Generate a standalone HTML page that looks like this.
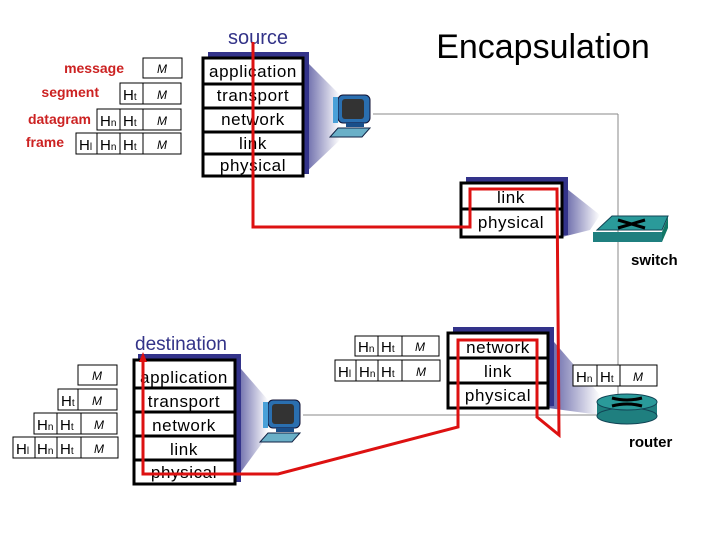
<!DOCTYPE html>
<html><head><meta charset="utf-8"><style>
html,body{margin:0;padding:0;background:#fff;}
svg{display:block;}
text{font-family:"Liberation Sans",sans-serif;}
.lay{font-size:17px;fill:#000;text-anchor:middle;letter-spacing:0.6px;}
.lbl{font-size:14px;font-weight:bold;fill:#cc2222;text-anchor:end;}
.h{font-size:15px;fill:#000;}
.m{font-size:12px;fill:#000;text-anchor:middle;font-style:italic;}
.dev{font-size:15px;font-weight:bold;fill:#000;}
</style></head><body>
<svg width="720" height="540" viewBox="0 0 720 540" xmlns="http://www.w3.org/2000/svg">
<defs>
<linearGradient id="g" x1="0" x2="1" y1="0" y2="0">
<stop offset="0" stop-color="#33338a"/><stop offset="1" stop-color="#33338a" stop-opacity="0"/>
</linearGradient>
<g id="pc">
<rect x="8" y="0" width="32" height="28" rx="5" fill="#2a6fb0" stroke="#113" stroke-width="1"/>
<rect x="12" y="4" width="22" height="20" rx="3" fill="#333"/>
<rect x="3" y="2" width="5" height="26" fill="#4aa0d8"/>
<rect x="16" y="28" width="18" height="4" fill="#1a4f8a"/>
<polygon points="0,42 32,42 40,33 8,33" fill="#6ab0c8" stroke="#124" stroke-width="1"/>
</g>
</defs>

<line x1="373" y1="114" x2="618" y2="114" stroke="#888" stroke-width="1"/>
<line x1="618" y1="114" x2="618" y2="420" stroke="#888" stroke-width="1"/>
<line x1="303" y1="415" x2="600" y2="415" stroke="#888" stroke-width="1"/>

<polygon points="303,58 340,95 340,140 303,175" fill="url(#g)" opacity="0.8"/>
<rect x="303" y="56" width="6" height="118" fill="#33338a"/>
<rect x="208" y="52" width="101" height="6" fill="#33338a"/>
<polygon points="562,185 600,215 590,230 562,237" fill="url(#g)" opacity="0.8"/>
<rect x="562" y="179" width="6" height="56" fill="#33338a"/>
<rect x="466" y="177" width="102" height="6" fill="#33338a"/>
<polygon points="548,335 600,395 600,415 548,408" fill="url(#g)" opacity="0.8"/>
<rect x="548" y="329" width="6" height="77" fill="#33338a"/>
<rect x="453" y="327" width="101" height="6" fill="#33338a"/>
<polygon points="235,362 268,400 268,435 235,480" fill="url(#g)" opacity="0.8"/>
<rect x="235" y="356" width="6" height="126" fill="#33338a"/>
<rect x="138" y="354" width="103" height="6" fill="#33338a"/>

<g stroke="#000" stroke-width="3" fill="#fff">
<rect x="203" y="58" width="100" height="118"/>
<line x1="203" y1="84" x2="303" y2="84"/><line x1="203" y1="108" x2="303" y2="108"/>
<line x1="203" y1="132" x2="303" y2="132"/><line x1="203" y1="154" x2="303" y2="154"/>
</g>
<text class="lay" x="253" y="77">application</text>
<text class="lay" x="253" y="101">transport</text>
<text class="lay" x="253" y="125">network</text>
<text class="lay" x="253" y="149">link</text>
<text class="lay" x="253" y="171">physical</text>

<g stroke="#000" stroke-width="3" fill="#fff">
<rect x="461" y="183" width="101" height="54"/>
<line x1="461" y1="209" x2="562" y2="209"/>
</g>
<text class="lay" x="511" y="203">link</text>
<text class="lay" x="511" y="228">physical</text>

<g stroke="#000" stroke-width="3" fill="#fff">
<rect x="448" y="333" width="100" height="75"/>
<line x1="448" y1="358" x2="548" y2="358"/><line x1="448" y1="383" x2="548" y2="383"/>
</g>
<text class="lay" x="498" y="353">network</text>
<text class="lay" x="498" y="377">link</text>
<text class="lay" x="498" y="401">physical</text>

<g stroke="#000" stroke-width="3" fill="#fff">
<rect x="134" y="360" width="101" height="124"/>
<line x1="134" y1="388" x2="235" y2="388"/><line x1="134" y1="412" x2="235" y2="412"/>
<line x1="134" y1="436" x2="235" y2="436"/><line x1="134" y1="460" x2="235" y2="460"/>
</g>
<text class="lay" x="184" y="383">application</text>
<text class="lay" x="184" y="407">transport</text>
<text class="lay" x="184" y="431">network</text>
<text class="lay" x="184" y="455">link</text>
<text class="lay" x="184" y="478">physical</text>

<use href="#pc" x="330" y="95"/>
<use href="#pc" x="260" y="400"/>
<polygon points="597,230 662,230 668,216 612,216" fill="#2a9a9a" stroke="#145" stroke-width="1"/>
<polygon points="593,232 662,232 662,242 593,242" fill="#1f7f7f"/>
<polygon points="662,242 668,228 668,217 662,232" fill="#176"/>
<path d="M618,220 L645,228 M618,228 L645,220" stroke="#000" stroke-width="3"/>
<rect x="597" y="402" width="60" height="14" fill="#1f7f7f"/>
<ellipse cx="627" cy="416" rx="30" ry="8" fill="#1f7f7f" stroke="#145"/>
<ellipse cx="627" cy="402" rx="30" ry="8" fill="#2a9a9a" stroke="#145"/>
<path d="M612,398 Q627,402 642,398 M612,406 Q627,402 642,406" stroke="#000" stroke-width="3" fill="none"/>
<text class="dev" x="631" y="265">switch</text>
<text class="dev" x="629" y="447">router</text>

<g stroke="#000" stroke-width="1" fill="#fff">
<rect x="143" y="58" width="39" height="20"/>
<rect x="120" y="83" width="23" height="21"/><rect x="143" y="83" width="38" height="21"/>
<rect x="97" y="109" width="23" height="21"/><rect x="120" y="109" width="23" height="21"/><rect x="143" y="109" width="38" height="21"/>
<rect x="76" y="133" width="21" height="21"/><rect x="97" y="133" width="23" height="21"/><rect x="120" y="133" width="23" height="21"/><rect x="143" y="133" width="38" height="21"/>
<rect x="78" y="365" width="39" height="20"/>
<rect x="58" y="389" width="20" height="21"/><rect x="78" y="389" width="39" height="21"/>
<rect x="34" y="413" width="23" height="21"/><rect x="57" y="413" width="24" height="21"/><rect x="81" y="413" width="36" height="21"/>
<rect x="13" y="437" width="22" height="21"/><rect x="35" y="437" width="22" height="21"/><rect x="57" y="437" width="24" height="21"/><rect x="81" y="437" width="37" height="21"/>
<rect x="355" y="336" width="23" height="20"/><rect x="378" y="336" width="24" height="20"/><rect x="402" y="336" width="37" height="20"/>
<rect x="335" y="360" width="21" height="21"/><rect x="356" y="360" width="22" height="21"/><rect x="378" y="360" width="24" height="21"/><rect x="402" y="360" width="38" height="21"/>
<rect x="573" y="365" width="24" height="21"/><rect x="597" y="365" width="23" height="21"/><rect x="620" y="365" width="37" height="21"/>
</g>
<g class="m">
<text x="162" y="73">M</text><text x="162" y="99">M</text><text x="162" y="125">M</text><text x="162" y="149">M</text>
<text x="97" y="380">M</text><text x="97" y="405">M</text><text x="99" y="429">M</text><text x="99" y="453">M</text>
<text x="420" y="351">M</text><text x="421" y="376">M</text><text x="638" y="381">M</text>
</g>
<g class="h">
<text x="123" y="100">H<tspan font-size="10">t</tspan></text>
<text x="100" y="126">H<tspan font-size="10">n</tspan></text><text x="123" y="126">H<tspan font-size="10">t</tspan></text>
<text x="79" y="150">H<tspan font-size="10">l</tspan></text><text x="100" y="150">H<tspan font-size="10">n</tspan></text><text x="123" y="150">H<tspan font-size="10">t</tspan></text>
<text x="61" y="406">H<tspan font-size="10">t</tspan></text>
<text x="37" y="430">H<tspan font-size="10">n</tspan></text><text x="60" y="430">H<tspan font-size="10">t</tspan></text>
<text x="16" y="454">H<tspan font-size="10">l</tspan></text><text x="37" y="454">H<tspan font-size="10">n</tspan></text><text x="60" y="454">H<tspan font-size="10">t</tspan></text>
<text x="358" y="352">H<tspan font-size="10">n</tspan></text><text x="381" y="352">H<tspan font-size="10">t</tspan></text>
<text x="338" y="377">H<tspan font-size="10">l</tspan></text><text x="359" y="377">H<tspan font-size="10">n</tspan></text><text x="381" y="377">H<tspan font-size="10">t</tspan></text>
<text x="576" y="382">H<tspan font-size="10">n</tspan></text><text x="600" y="382">H<tspan font-size="10">t</tspan></text>
</g>
<g class="lbl">
<text x="124" y="73">message</text>
<text x="99" y="97">segment</text>
<text x="91" y="124">datagram</text>
<text x="64" y="147">frame</text>
</g>

<text x="543" y="58" font-size="34" text-anchor="middle" fill="#000">Encapsulation</text>
<text x="258" y="44" font-size="20" text-anchor="middle" fill="#333388">source</text>
<text x="181" y="350" font-size="19" text-anchor="middle" fill="#333388">destination</text>

<polyline points="253,42 253,227 470,227 470,189 557,189 559,435 537,417 537,340 458,340 458,427 278,474 143,474 143,360"
 fill="none" stroke="#dd1111" stroke-width="3" stroke-linejoin="miter"/>
<polygon points="143,352 139,362 147,362" fill="#dd1111"/>
</svg>
</body></html>
